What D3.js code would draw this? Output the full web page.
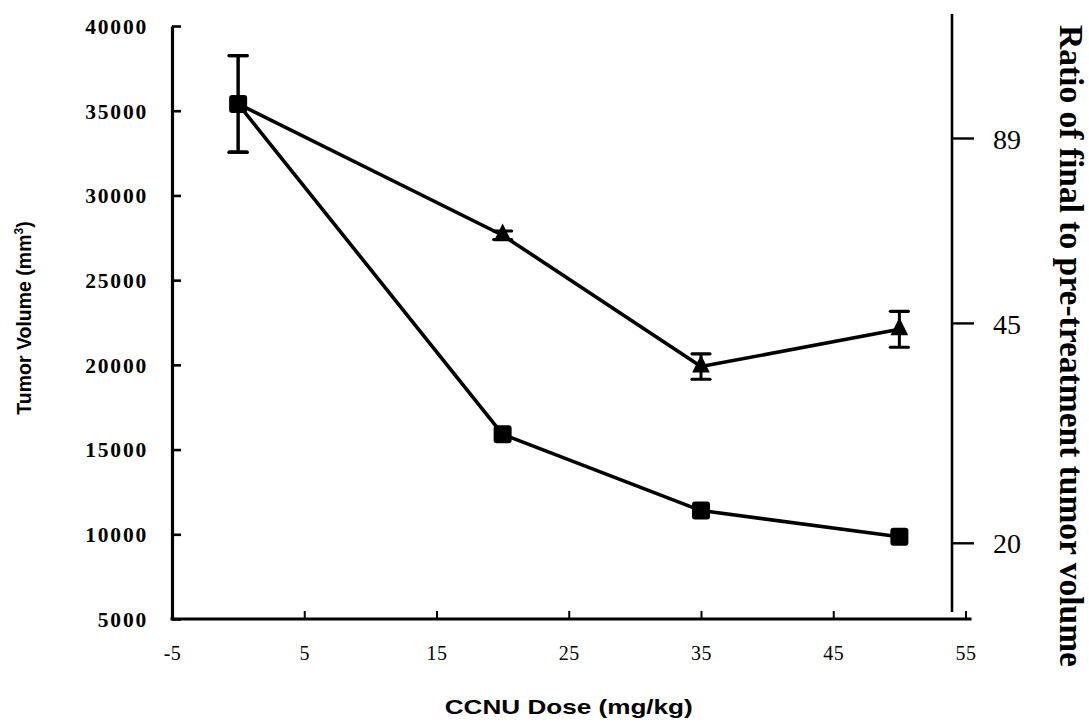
<!DOCTYPE html>
<html>
<head>
<meta charset="utf-8">
<script src="https://cdn.jsdelivr.net/npm/d3@7"></script>
<style>
  html, body { margin: 0; padding: 0; background: #fff; }
  svg { display: block; }
</style>
</head>
<body>
<svg id="chart" width="1089" height="723"></svg>
<script>
// CCNU dose (mg/kg)
const doses = [0, 20, 35, 50];
// Tumor volume (mm^3), square markers
const volumeMean = [35400, 15900, 11400, 9850];
const volumeErr  = [2850, 0, 0, 0];
// Second series, triangle markers
const triMean = [35400, 27650, 19900, 22100];
const triErr  = [2850, 250, 750, 1060];

const xTicks = [-5, 5, 15, 25, 35, 45, 55];
const yTicks = [5000, 10000, 15000, 20000, 25000, 30000, 35000, 40000];
const ratioTicks = [20, 45, 89];
const ratioDomain = [15.1, 140.6];

const svg = d3.select("#chart");

const x = d3.scaleLinear().domain([-5, 55]).range([172, 965.5]);
const y = d3.scaleLinear().domain([5000, 40000]).range([619, 26]);
const yRatio = d3.scaleLog().domain(ratioDomain).range([619, 14]);

// plain hyphen for negatives
const fmt = d => (d < 0 ? "-" : "") + Math.abs(d);

// ---- left axis ----
const leftAxis = d3.axisLeft(y).tickValues(yTicks).tickSizeInner(-9).tickSizeOuter(0)
  .tickPadding(24).tickFormat(fmt);
const gL = svg.append("g").attr("transform", `translate(${x(-5)},0)`).call(leftAxis);
gL.select(".domain").attr("stroke", "#000").attr("stroke-width", 3.2);
gL.selectAll(".tick line").attr("stroke", "#000").attr("stroke-width", 2.6);
gL.selectAll(".tick text")
  .attr("font-family", "'Liberation Serif', 'Times New Roman', serif")
  .attr("font-weight", "bold").attr("font-size", 21.5).attr("letter-spacing", 1.8)
  .attr("fill", "#000").attr("dy", "0.34em");

// ---- bottom axis ----
const bottomAxis = d3.axisBottom(x).tickValues(xTicks).tickSizeInner(-8).tickSizeOuter(0)
  .tickPadding(27).tickFormat(fmt);
const gB = svg.append("g").attr("transform", `translate(0,${y(5000)})`).call(bottomAxis);
gB.select(".domain").attr("stroke", "#000").attr("stroke-width", 3.2)
  .attr("d", `M${x(-5) - 1.5},0H${x(55) + 6}`);
gB.selectAll(".tick line").attr("stroke", "#000").attr("stroke-width", 2);
gB.selectAll(".tick text")
  .attr("font-family", "'Liberation Serif', 'Times New Roman', serif")
  .attr("font-size", 20).attr("letter-spacing", 0.5).attr("fill", "#000");

// ---- right axis (ratio, log-spaced) ----
const rightAxis = d3.axisRight(yRatio).tickValues(ratioTicks).tickSizeInner(22).tickSizeOuter(0)
  .tickPadding(19).tickFormat(fmt);
const gR = svg.append("g").attr("transform", "translate(952,0)").call(rightAxis);
gR.select(".domain").attr("stroke", "#000").attr("stroke-width", 2.6)
  .attr("d", `M0,${yRatio.range()[1]}V612`);
gR.selectAll(".tick line").attr("stroke", "#000").attr("stroke-width", 2.4);
gR.selectAll(".tick text")
  .attr("font-family", "'Liberation Serif', 'Times New Roman', serif")
  .attr("font-size", 28).attr("fill", "#000").attr("dy", "0.36em");

// ---- axis titles ----
svg.append("text")
  .attr("x", x(25)).attr("y", 714)
  .attr("text-anchor", "middle")
  .attr("font-family", "'Liberation Sans', Arial, sans-serif")
  .attr("font-weight", "bold").attr("font-size", 21)
  .attr("textLength", 248).attr("lengthAdjust", "spacingAndGlyphs")
  .text("CCNU Dose (mg/kg)");

const yTitle = svg.append("text")
  .attr("transform", "translate(31,318) rotate(-90)")
  .attr("text-anchor", "middle")
  .attr("font-family", "'Liberation Sans', Arial, sans-serif")
  .attr("font-weight", "bold").attr("font-size", 19.5);
yTitle.append("tspan").text("Tumor Volume (mm");
yTitle.append("tspan").attr("font-size", 12).attr("dy", -8).text("3");
yTitle.append("tspan").attr("dy", 8).text(")");

svg.append("text")
  .attr("transform", "translate(1060,25) rotate(90)")
  .attr("text-anchor", "start")
  .attr("font-family", "'Liberation Serif', 'Times New Roman', serif")
  .attr("font-weight", "bold").attr("font-size", 33.5)
  .text("Ratio of final to pre-treatment tumor volume");

// ---- series ----
const line = d3.line().x(d => x(d.dose)).y(d => y(d.v));
const sq = doses.map((d, i) => ({ dose: d, v: volumeMean[i], e: volumeErr[i] }));
const tri = doses.map((d, i) => ({ dose: d, v: triMean[i], e: triErr[i] }));

[sq, tri].forEach(series => {
  svg.append("path").datum(series).attr("d", line)
    .attr("fill", "none").attr("stroke", "#000").attr("stroke-width", 3.6)
    .attr("stroke-linejoin", "round");
});

// error bars
function errorBars(series) {
  const data = series.filter(d => d.e > 0);
  const g = svg.append("g").attr("stroke", "#000");
  g.selectAll("line.v").data(data).join("line")
    .attr("x1", d => x(d.dose)).attr("x2", d => x(d.dose))
    .attr("y1", d => y(d.v + d.e)).attr("y2", d => y(d.v - d.e))
    .attr("stroke-width", 3);
  [1, -1].forEach(s => {
    g.selectAll(null).data(data).join("line")
      .attr("x1", d => x(d.dose) - 9).attr("x2", d => x(d.dose) + 9)
      .attr("y1", d => y(d.v + s * d.e))
      .attr("y2", d => y(d.v + s * d.e))
      .attr("stroke-width", 3.2).attr("stroke-linecap", "round");
  });
}
errorBars(sq);
errorBars(tri);

// triangle markers
svg.append("g").selectAll("path").data(tri.slice(1)).join("path")
  .attr("d", d3.symbol().type(d3.symbolTriangle).size(150))
  .attr("transform", d => `translate(${x(d.dose)},${y(d.v)}) scale(0.95,1.1)`)
  .attr("fill", "#000");

// square markers
svg.append("g").selectAll("rect").data(sq).join("rect")
  .attr("x", d => x(d.dose) - 9).attr("y", d => y(d.v) - 9)
  .attr("width", 18).attr("height", 18).attr("rx", 3)
  .attr("fill", "#000");
</script>
</body>
</html>
